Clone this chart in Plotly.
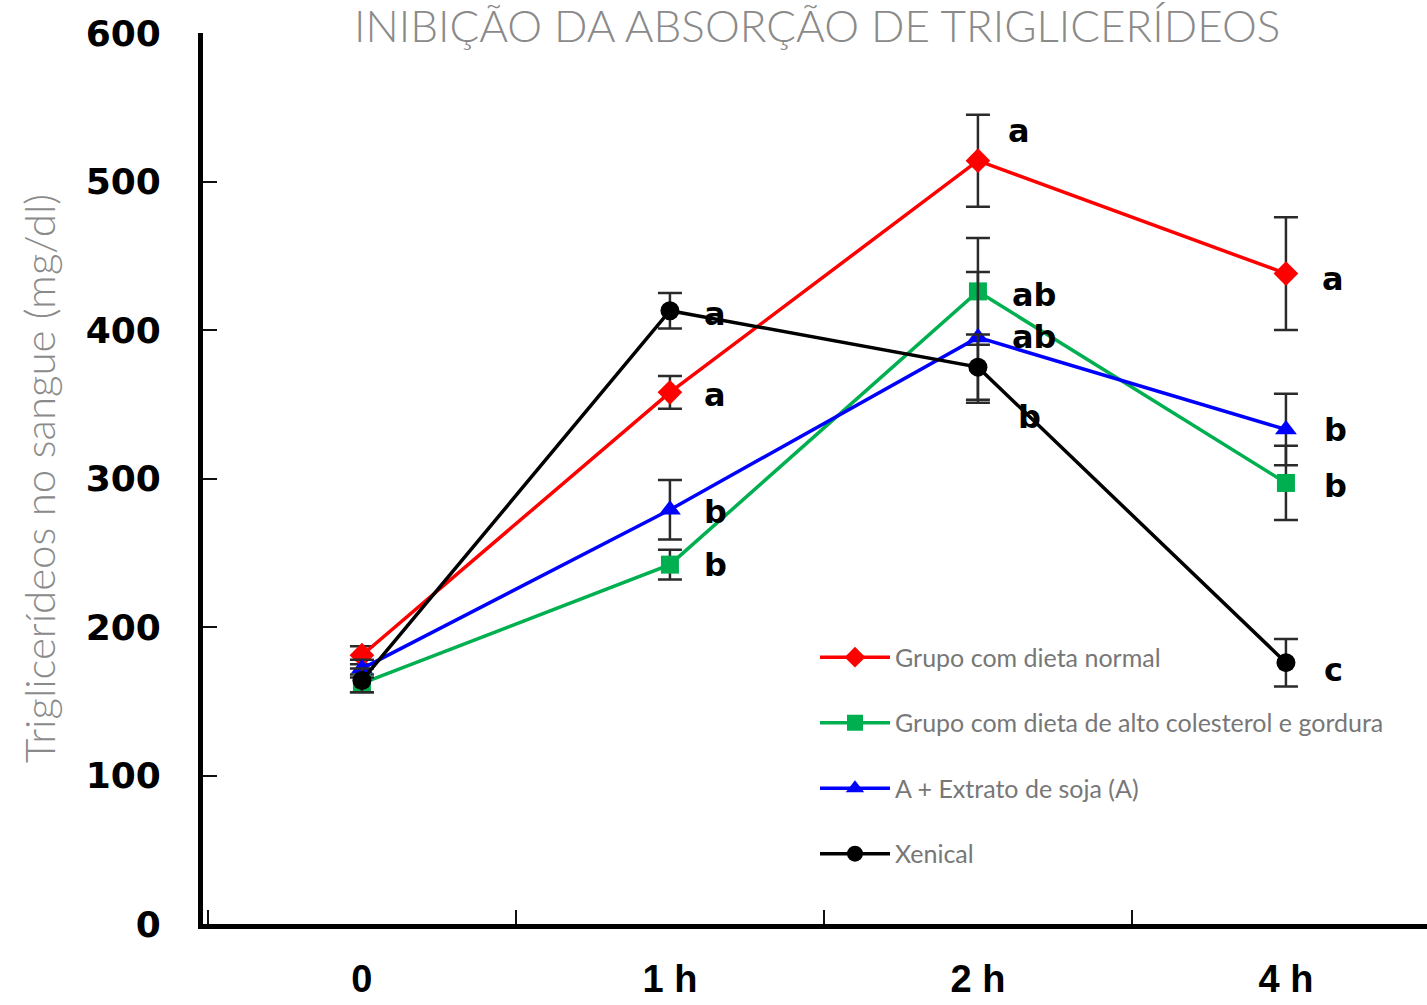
import plotly.graph_objects as go

# Time points and tick labels
times = ["0", "1 h", "2 h", "4 h"]

# Blood triglycerides (mg/dl) per group, with standard errors
normal = [181, 358, 514, 438]
normal_err = [6, 11, 31, 38]

high_fat = [162, 242, 426, 297]
high_fat_err = [6, 10, 36, 25]

soy = [172, 279, 395, 333]
soy_err = [6, 20, 44, 24]

xenical = [164, 413, 375, 176]
xenical_err = [8, 12, 22, 16]

# Significance letters shown beside each point
normal_sig = ["", "a", "a", "a"]
high_fat_sig = ["", "b", "ab", "b"]
soy_sig = ["", "b", "ab", "b"]
xenical_sig = ["", "a", "b", "c"]

series = [
    ("Grupo com dieta normal", normal, normal_err, normal_sig, "#ff0000", "diamond", 19),
    ("Grupo com dieta de alto colesterol e gordura", high_fat, high_fat_err, high_fat_sig, "#00b050", "square", 18),
    ("A + Extrato de soja (A)", soy, soy_err, soy_sig, "#0000ff", "triangle-up", 19),
    ("Xenical", xenical, xenical_err, xenical_sig, "#000000", "circle", 19),
]

# Pixel nudges for letters so overlapping labels stay readable
sig_shift = {
    "Grupo com dieta normal": [0, -3, 30, -5],
    "Grupo com dieta de alto colesterol e gordura": [0, 0, -4, -3],
    "A + Extrato de soja (A)": [0, -2, 0, 0],
    "Xenical": [0, -3, -50, -7],
}
sig_xshift = {
    "Grupo com dieta normal": [0, 32, 28, 34],
    "Grupo com dieta de alto colesterol e gordura": [0, 32, 32, 36],
    "A + Extrato de soja (A)": [0, 32, 32, 36],
    "Xenical": [0, 32, 38, 36],
}

fig = go.Figure()
annotations = []
for i, (name, vals, errs, sig, color, symbol, msize) in enumerate(series):
    fig.add_trace(go.Scatter(
        x=times, y=vals, name=name, mode="lines+markers",
        legendgroup=f"g{i}",
        line=dict(color=color, width=3.5),
        marker=dict(symbol=symbol, size=msize, color=color),
        error_y=dict(type="data", array=errs, visible=True,
                     color="#2a2a2a", thickness=2.5, width=12),
    ))
    for j, letter in enumerate(sig):
        if not letter:
            continue
        annotations.append(dict(
            x=times[j], y=vals[j], xref="x", yref="y", text=letter,
            showarrow=False, xanchor="left", yanchor="middle",
            xshift=sig_xshift[name][j], yshift=sig_shift[name][j],
            font=dict(family="DejaVu Sans", size=32, color="#000000", weight="bold"),
        ))

# Title along the top edge of the page
annotations.append(dict(
    x=0.502, y=1.0, xref="paper", yref="paper", yshift=8,
    text="INIBIÇÃO DA ABSORÇÃO DE TRIGLICERÍDEOS", showarrow=False,
    xanchor="center", yanchor="middle",
    font=dict(family="Lato, Open Sans", size=44, color="#8a8a8a", weight=300),
))

fig.update_layout(
    width=1427, height=1005,
    margin=dict(l=203, r=0, t=33, b=81),
    plot_bgcolor="white", paper_bgcolor="white",
    annotations=annotations,
    showlegend=True,
    legend=dict(
        x=0.5, y=0.325, xanchor="left", yanchor="top",
        font=dict(family="Lato, Open Sans", size=25, color="#777777"),
        tracegroupgap=30, itemwidth=70,
        bgcolor="rgba(0,0,0,0)",
    ),
    xaxis=dict(
        type="category", range=[-0.516, 3.458], automargin=False,
        tickson="boundaries", ticks="inside", ticklen=14, tickwidth=2,
        tickcolor="#111111",
        showline=True, linecolor="#000000", linewidth=5,
        showgrid=False, zeroline=False,
        tickfont=dict(family="Liberation Sans Narrow, Liberation Sans", size=38,
                      color="#000000", weight="bold"),
        ticklabelstandoff=17,
    ),
    yaxis=dict(
        range=[0, 600], tickvals=[0, 100, 200, 300, 400, 500, 600],
        automargin=False,
        ticks="inside", ticklen=14, tickwidth=2, tickcolor="#111111",
        showline=True, linecolor="#000000", linewidth=5,
        showgrid=False, zeroline=False,
        tickfont=dict(family="DejaVu Sans", size=36, color="#000000", weight="bold"),
        ticklabelstandoff=30,
        title=dict(text="Triglicerídeos no sangue (mg/dl)",
                   font=dict(family="Lato, Open Sans", size=42, color="#8a8a8a", weight=300),
                   standoff=18),
    ),
)

fig.write_html("out.html")
